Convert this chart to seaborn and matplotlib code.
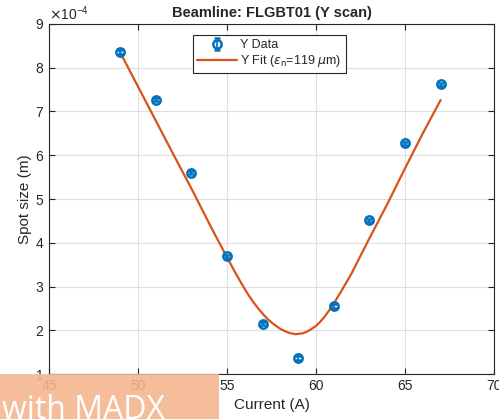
import numpy as np
import pandas as pd
import matplotlib
matplotlib.use("Agg")
import matplotlib.pyplot as plt
import seaborn as sns
from matplotlib.ticker import ScalarFormatter

# measured spot sizes (m) vs quad current (A)
current = [49, 51, 53, 55, 57, 59, 61, 63, 65, 67]
spot = [8.36e-4, 7.27e-4, 5.60e-4, 3.69e-4, 2.15e-4, 1.37e-4, 2.55e-4, 4.51e-4, 6.27e-4, 7.62e-4]
spot_err = [0.04e-4] * 10

# fit curve (units of 1e-4 m)
fit_current = [49, 50, 51, 52, 53, 54, 54.5, 55, 55.5, 56, 56.25, 56.5, 56.75, 57, 57.25,
               57.5, 57.75, 58, 58.25, 58.5, 58.85, 59.25, 59.5, 59.75, 60, 60.25, 60.5,
               60.75, 61, 61.5, 62, 62.5, 63, 64, 65, 66, 67]
fit_spot = [8.35, 7.57, 6.79, 6.01, 5.24, 4.44, 4.05, 3.67, 3.29, 2.94, 2.78, 2.63, 2.50,
            2.38, 2.27, 2.18, 2.10, 2.03, 1.98, 1.94, 1.91, 1.93, 1.97, 2.03, 2.10, 2.20,
            2.32, 2.46, 2.61, 2.95, 3.30, 3.70, 4.10, 4.88, 5.70, 6.50, 7.26]
fit_spot = [v * 1e-4 for v in fit_spot]

fit_df = pd.DataFrame({"Current": fit_current, "Spot": fit_spot})

sns.set_style("whitegrid")
plt.rcParams['font.family'] = ['Liberation Sans', 'DejaVu Sans']
plt.rcParams['mathtext.fontset'] = 'dejavusans'

fig = plt.figure(figsize=(4.99, 4.19), dpi=100)
ax = fig.add_axes([49 / 499, 1 - 374 / 419, 445 / 499, 350 / 419])

eb = ax.errorbar(current, spot, yerr=spot_err, fmt='o', color='#0072BD', mfc='none',
                 mew=1.8, ms=6, elinewidth=1.2, capsize=2.5, capthick=1.2,
                 label='Y Data', zorder=3)
sns.lineplot(data=fit_df, x="Current", y="Spot", color='#D95319', linewidth=1.6,
             label=r'Y Fit ($\epsilon_{\rm n}$=119 $\mu$m)', ax=ax, zorder=2)

ax.set_xlim(45, 70)
ax.set_ylim(1e-4, 9e-4)
ax.set_xticks([45, 50, 55, 60, 65, 70])
ax.set_yticks(np.arange(1, 10) * 1e-4)
fmt = ScalarFormatter(useMathText=True)
fmt.set_powerlimits((-3, 3))
ax.yaxis.set_major_formatter(fmt)
ax.yaxis.get_offset_text().set_fontsize(10)

ax.set_title('Beamline: FLGBT01 (Y scan)', fontsize=10.5, fontweight='bold', pad=5)
ax.set_xlabel('Current (A)', fontsize=11, color='#262626')
ax.set_ylabel('Spot size (m)', fontsize=11, color='#262626', labelpad=2)
ax.tick_params(labelsize=10, colors='#262626', direction='in', length=4,
               top=True, right=True, bottom=True, left=True)
ax.grid(True, color='#dfdfdf', linewidth=0.8)
for s in ax.spines.values():
    s.set_visible(True)
    s.set_color('#262626')
    s.set_linewidth(0.8)

handles, labels = ax.get_legend_handles_labels()
order = [labels.index('Y Data'), 1 - labels.index('Y Data')]
leg = ax.legend([handles[i] for i in order], [labels[i] for i in order],
                loc='upper center', bbox_to_anchor=(0.495, 0.985), fontsize=9,
                frameon=True, fancybox=False, framealpha=1, borderpad=0.3,
                handlelength=3.2, labelspacing=0.15, handletextpad=0.3)
leg.get_frame().set_edgecolor('#262626')
leg.get_frame().set_linewidth(0.8)

# watermark box in the bottom left corner
fig.patches.append(plt.Rectangle((0, 0), 219 / 499, 45 / 419, transform=fig.transFigure,
                                 facecolor='#F4B68F', alpha=0.9, edgecolor='none', zorder=5))
fig.text(2 / 499, -8 / 419, 'with MADX', color='white', fontsize=23, family='Open Sans',
         ha='left', va='bottom', zorder=6)

fig.savefig('out.png', dpi=100)
